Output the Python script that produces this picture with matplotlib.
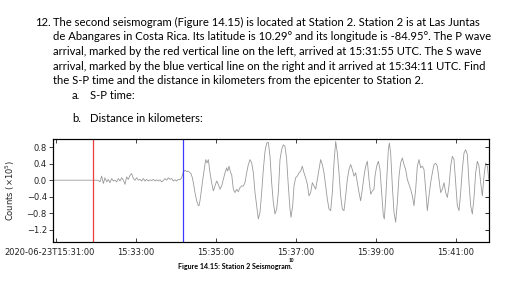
import matplotlib
matplotlib.use('Agg')
import matplotlib.pyplot as plt
from matplotlib.transforms import ScaledTranslation

# seconds after 15:31:00 UTC and counts (x10^5)
t_sec = [-4.5, 56, 63,
         66, 68.5, 71, 73.5, 76, 78.5, 81, 83.5, 86, 88.5, 91, 93.5, 96, 98.5, 101,
         103.5, 106, 108.5, 111, 113.5, 116, 118.5, 121, 123.5, 126, 128.5, 131,
         133.5, 136, 138.5, 141, 143.5, 146, 148.5, 151, 153.5, 156, 158.5, 161,
         163.5, 166, 168.5, 171, 173.5, 176, 178.5, 181, 183.5, 186, 188.5, 191,
         193.5, 196, 198.5, 201, 202.5, 204.5, 206, 208.5, 211, 213.5, 215, 217,
         219.5, 222, 224.5, 226.5, 228.5, 231, 233.5, 236, 238.5, 241, 243.5, 246,
         248.5, 251, 253.5, 256, 257.5, 259.5, 262, 263.5, 266, 268.5, 271, 273.5,
         276, 278.5, 281, 283.5, 286, 288.5, 291, 293.5, 296, 298.5, 301, 303.5,
         306, 308.5, 311, 313.5, 316, 318.5, 321, 323.5, 326, 328.5, 331, 333.5,
         336, 338.5, 341, 343.5, 346, 348.5, 351, 352.5, 355, 357, 359.5, 362,
         364.5, 367, 369.5, 372, 374.5, 377, 379.5, 382, 384.5, 387, 389.5, 392,
         394.5, 397, 399.5, 402, 404.5, 407, 409.5, 412, 414.5, 417, 419.5, 422,
         424.5, 427, 429.5, 432, 434.5, 437, 439.5, 442, 444.5, 447, 449.5, 452,
         454.5, 457, 459.5, 462, 464.5, 467, 469.5, 472, 474.5, 477,
         478.5, 481, 483.5, 486, 488.5, 491, 492.5, 494.5, 497, 498.5, 500, 502,
         504.5, 507, 509.5, 512, 514.5, 517, 519.5, 522, 524.5, 527, 529.5, 532,
         534.5, 537, 539.5, 542, 544.5, 547, 549.5, 552, 554.5, 557, 559.5, 562,
         564.5, 567, 569.5, 572, 574.5, 577, 579.5, 582, 584.5, 587, 589.5, 592,
         594.5, 597, 599.5, 602, 604.5, 607, 609.5, 612, 614.5, 617, 619.5, 622,
         624.5, 627, 629.5, 632, 634.5, 637, 639.5, 642, 644.5, 647, 649.5, 651]
counts = [0, 0, 0,
          -0.04, 0.10, -0.08, 0.06, -0.04, 0.02, -0.06, 0.04, -0.02, 0.0, -0.04, 0.04, -0.02, 0.06, 0.0,
          -0.10, 0.08, 0.02, 0.12, 0.16, 0.04, 0.0, 0.06, 0.0, 0.02, -0.02, 0.04,
          -0.02, 0.02, -0.02, 0.01, -0.01, 0.02, -0.02, 0.01, -0.02, 0.01, -0.04, -0.01,
          0.04, 0.0, 0.06, 0.02, 0.04, -0.02, 0.01, -0.02, 0.02, 0.01, 0.06, 0.20,
          0.24, 0.21, 0.22, 0.18, 0.16, 0.06, -0.06, -0.30, -0.50, -0.62, -0.60, -0.38,
          -0.06, 0.22, 0.50, 0.42, 0.50, 0.18, -0.06, -0.26, -0.14, -0.02, -0.10, -0.22,
          -0.14, 0.02, 0.18, 0.30, 0.22, 0.34, 0.18, 0.14, -0.22, -0.30, -0.22, -0.28,
          -0.18, -0.14, -0.14, -0.06, 0.18, 0.38, 0.50, 0.42, 0.18, -0.30, -0.62, -0.94,
          -0.78, -0.30, 0.26, 0.70, 0.90, 0.92, 0.58, -0.06, -0.54, -0.82, -0.70, -0.30,
          0.50, 0.74, 0.86, 0.82, 0.50, -0.14, -0.70, -0.90, -0.62, -0.14, 0.06, 0.10,
          0.18, 0.22, 0.34, 0.18, 0.06, -0.10, -0.38, -0.30, -0.06, -0.14, -0.22, 0.02,
          0.26, 0.50, 0.38, 0.18, -0.14, -0.46, -0.70, -0.74, -0.30, 0.42, 0.94, 0.66,
          0.18, -0.38, -0.70, -0.74, -0.38, 0.02, 0.26, 0.38, 0.26, 0.10, 0.18, -0.06,
          -0.30, -0.50, -0.22, 0.10, 0.34, 0.46, 0.02, -0.34, -0.26, -0.22,
          0.10, 0.34, 0.46, 0.26, -0.30, -0.86, -0.94, -0.46, 0.26, 0.74, 0.90, 0.66,
          -0.14, -0.78, -1.02, -0.54, 0.10, 0.42, 0.54, 0.38, 0.26, 0.02, -0.10, -0.22,
          -0.38, -0.62, -0.22, 0.34, 0.50, 0.30, 0.34, 0.26, -0.22, -0.74, -0.38, -0.06,
          0.18, 0.38, 0.41, 0.34, 0.02, -0.30, -0.22, -0.06, -0.30, -0.42, -0.14, 0.34,
          0.58, 0.50, -0.06, -0.62, -0.74, -0.30, 0.26, 0.66, 0.74, 0.62, -0.06, -0.62,
          -0.82, -0.42, 0.18, 0.46, 0.34, -0.06, -0.38, 0.10, 0.42, 0.34, -0.02, 0.10]

p_arrival = 55   # 15:31:55
s_arrival = 191  # 15:34:11

x_ticks = [0, 120, 240, 360, 480, 600]
x_labels = ['2020-06-23T15:31:00', '15:33:00', '15:35:00', '15:37:00', '15:39:00', '15:41:00']
y_ticks = [0.8, 0.4, 0.0, -0.4, -0.8, -1.2]
y_labels = ['0.8', '0.4', '0.0', '\u22120.4', '\u22120.8', '\u22121.2']

question = [
    ('12.', 'The second seismogram (Figure 14.15) is located at Station 2. Station 2 is at Las Juntas'),
    ('', 'de Abangares in Costa Rica. Its latitude is 10.29\u00b0 and its longitude is -84.95\u00b0. The P wave'),
    ('', 'arrival, marked by the red vertical line on the left, arrived at 15:31:55 UTC. The S wave'),
    ('', 'arrival, marked by the blue vertical line on the right and it arrived at 15:34:11 UTC. Find'),
    ('', 'the S-P time and the distance in kilometers from the epicenter to Station 2.'),
]
answers = [('a.', 'S-P time:'), ('b.', 'Distance in kilometers:')]

W, H = 517, 283
fig = plt.figure(figsize=(W / 100, H / 100), dpi=100)
fig.patch.set_facecolor('white')

doc_font = 'Lato'
fs = 8.1
line_y = [22.5, 36.8, 51.5, 66, 80.5]
for (num, txt), y in zip(question, line_y):
    if num:
        fig.text(35 / W, 1 - y / H, num, fontsize=fs, family=doc_font, va='center')
    fig.text(53 / W, 1 - y / H, txt, fontsize=fs, family=doc_font, va='center')
for (lab, txt), y in zip(answers, [95.5, 119]):
    fig.text(72 / W, 1 - y / H, lab, fontsize=fs, family=doc_font, va='center')
    fig.text(90 / W, 1 - y / H, txt, fontsize=fs, family=doc_font, va='center')

ax = fig.add_axes([53 / W, (H - 242) / H, (489 - 53) / W, (242 - 139) / H])
ax.plot(t_sec, counts, color='#999999', linewidth=0.6)
ax.axvline(p_arrival, color='#ee3b3b', linewidth=0.9)
ax.axvline(s_arrival, color='#3a3aff', linewidth=0.9)

ax.set_xlim(-4.5, 649.5)
ax.set_ylim(-1.5, 1.0)
ax.set_xticks(x_ticks)
ax.set_xticklabels(x_labels)
ax.set_yticks(y_ticks)
ax.set_yticklabels(y_labels)
ax.tick_params(axis='x', direction='in', top=True, length=3, width=0.6,
               labelsize=6, pad=4, colors='#222222')
ax.tick_params(axis='y', direction='out', length=3, width=0.6,
               labelsize=6, pad=1.5, colors='#222222')
ax.set_ylabel('Counts ($\\times10^5$)', fontsize=6, labelpad=7, color='#222222')
for sp in ax.spines.values():
    sp.set_linewidth(0.8)
    sp.set_color('#222222')

# first label sits a bit to the left of its tick
first = ax.get_xticklabels()[0]
first.set_transform(first.get_transform() + ScaledTranslation(-6 / 100, 0, fig.dpi_scale_trans))

ax2 = ax.twinx()
ax2.set_ylim(ax.get_ylim())
ax2.set_yticks(y_ticks)
ax2.tick_params(axis='y', direction='in', length=3, width=0.6, labelright=False)

fig.text(178 / W, 1 - 266 / H, 'Figure 14.15: Station 2 Seismogram.', fontsize=5.1,
         family=doc_font, weight='bold', ha='left', va='center')
fig.text(289 / W, 1 - 261 / H, '10', fontsize=3.4, family=doc_font, weight='bold',
         ha='left', va='center')

fig.savefig('out.png', dpi=100)
